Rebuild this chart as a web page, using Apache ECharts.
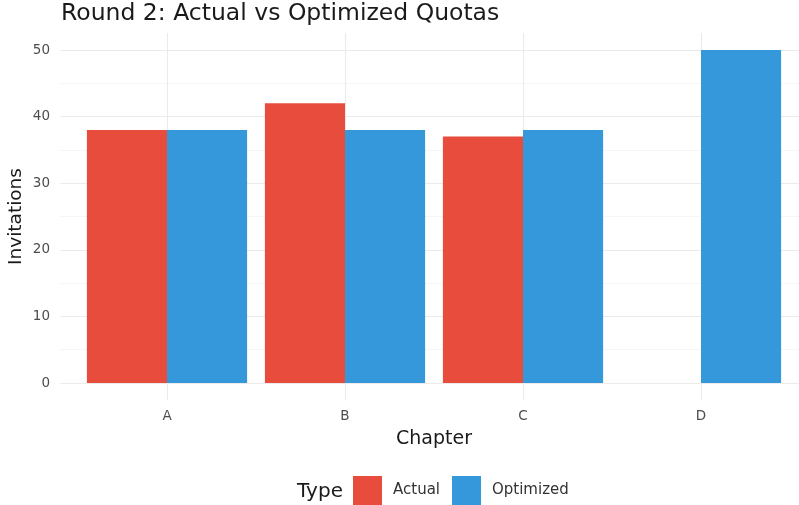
<!DOCTYPE html>
<html><head><meta charset="utf-8">
<script src="https://cdn.jsdelivr.net/npm/echarts@6/dist/echarts.min.js"></script>
<style>html,body{margin:0;padding:0;background:#fff}#c{width:799px;height:505px}</style>
</head><body><div id="c"></div>
<script>
const categories = ['A', 'B', 'C', 'D'];
const actual = [38, 42, 37, 0];
const optimized = [38, 38, 38, 50];
const yTicks = [0, 10, 20, 30, 40, 50];
const seriesNames = ['Actual', 'Optimized'];
const colors = ['#E74C3C', '#3498DB'];

const font = 'DejaVu Sans';
const chart = echarts.init(document.getElementById('c'), null, {renderer: 'canvas'});
chart.setOption({
  animation: false,
  backgroundColor: '#fff',
  textStyle: {fontFamily: font},
  title: {
    text: 'Round 2: Actual vs Optimized Quotas',
    left: 61, top: 2, padding: 0,
    textStyle: {fontFamily: font, fontSize: 23.5, fontWeight: 'normal', color: '#1a1a1a'}
  },
  graphic: [{
    type: 'text', left: 297, top: 482,
    style: {text: 'Type', font: '20px "DejaVu Sans"', fill: '#1a1a1a'}
  }],
  legend: {
    left: 348, top: 471,
    itemWidth: 29, itemHeight: 29, itemGap: 12,
    icon: 'rect',
    data: seriesNames,
    textStyle: {fontFamily: font, fontSize: 15, color: '#333', padding: [0, 0, 0, 6]}
  },
  grid: [
    {left: 60, right: 0, top: 50, bottom: 122, outerBoundsMode: 'none', containLabel: false},
    {left: 167, right: 98, top: 33, bottom: 105, outerBoundsMode: 'none', containLabel: false},
    {left: 78, right: 9, top: 50, bottom: 122, outerBoundsMode: 'none', containLabel: false}
  ],
  xAxis: [
    {gridIndex: 0, type: 'value', min: 0, max: 1, show: false},
    {gridIndex: 1, type: 'category', data: categories, boundaryGap: false,
     axisLine: {show: false}, axisTick: {show: false},
     axisLabel: {margin: 9, fontSize: 13.5, color: '#4d4d4d', fontFamily: font},
     splitLine: {show: true, lineStyle: {color: '#ebebeb', width: 1.1}},
     name: 'Chapter', nameLocation: 'middle', nameGap: 30,
     nameTextStyle: {fontSize: 19, color: '#1a1a1a', fontFamily: font}},
    {gridIndex: 2, type: 'category', data: categories, show: false}
  ],
  yAxis: [
    {gridIndex: 0, type: 'value', min: 0, max: 50, interval: 10,
     axisLine: {show: false}, axisTick: {show: false},
     axisLabel: {margin: 10, fontSize: 13.5, color: '#4d4d4d', fontFamily: font},
     splitLine: {show: true, lineStyle: {color: '#ebebeb', width: 1.1}},
     minorTick: {show: false, splitNumber: 2},
     minorSplitLine: {show: true, lineStyle: {color: '#f4f4f4', width: 0.8}},
     name: 'Invitations', nameLocation: 'middle', nameGap: 34, nameRotate: 90,
     nameMoveOverlap: false,
     nameTextStyle: {fontSize: 18.5, color: '#1a1a1a', fontFamily: font}},
    {gridIndex: 1, type: 'value', min: 0, max: 1, show: false},
    {gridIndex: 2, type: 'value', min: 0, max: 50, show: false}
  ],
  series: [
    {name: seriesNames[0], type: 'bar', xAxisIndex: 2, yAxisIndex: 2,
     data: actual, barWidth: '45%', barGap: '0%', itemStyle: {color: colors[0]}},
    {name: seriesNames[1], type: 'bar', xAxisIndex: 2, yAxisIndex: 2,
     data: optimized, barWidth: '45%', barGap: '0%', itemStyle: {color: colors[1]}}
  ]
});
</script></body></html>
